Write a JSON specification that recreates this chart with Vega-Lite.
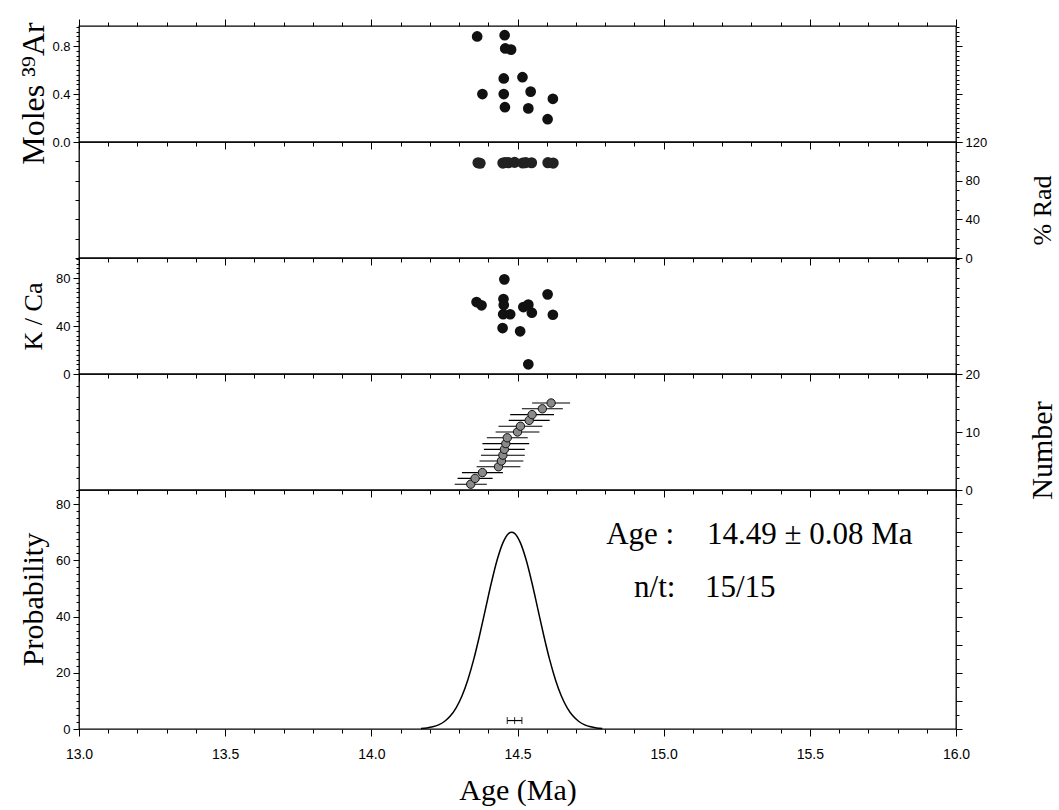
{
  "$schema": "https://vega.github.io/schema/vega-lite/v6.json",
  "background": "white",
  "padding": {"left": 16, "top": 17, "right": 0, "bottom": 0},
  "bounds": "flush",
  "spacing": 0,
  "datasets": {
    "moles": [
      {"age": 14.362, "moles": 0.88},
      {"age": 14.380, "moles": 0.40},
      {"age": 14.453, "moles": 0.53},
      {"age": 14.453, "moles": 0.40},
      {"age": 14.456, "moles": 0.89},
      {"age": 14.457, "moles": 0.29},
      {"age": 14.458, "moles": 0.78},
      {"age": 14.478, "moles": 0.77},
      {"age": 14.517, "moles": 0.54},
      {"age": 14.537, "moles": 0.28},
      {"age": 14.545, "moles": 0.42},
      {"age": 14.603, "moles": 0.19},
      {"age": 14.621, "moles": 0.36}
    ],
    "rad": [
      {"age": 14.365, "rad": 98.5},
      {"age": 14.372, "rad": 98.0},
      {"age": 14.450, "rad": 98.2},
      {"age": 14.458, "rad": 98.8},
      {"age": 14.469, "rad": 98.6},
      {"age": 14.490, "rad": 98.9},
      {"age": 14.518, "rad": 98.3},
      {"age": 14.528, "rad": 98.7},
      {"age": 14.548, "rad": 98.5},
      {"age": 14.604, "rad": 98.6},
      {"age": 14.622, "rad": 98.2}
    ],
    "kca": [
      {"age": 14.455, "kca": 78.9},
      {"age": 14.603, "kca": 66.4},
      {"age": 14.360, "kca": 60.0},
      {"age": 14.377, "kca": 57.3},
      {"age": 14.452, "kca": 62.5},
      {"age": 14.453, "kca": 57.5},
      {"age": 14.451, "kca": 49.8},
      {"age": 14.475, "kca": 49.8},
      {"age": 14.520, "kca": 55.8},
      {"age": 14.537, "kca": 57.8},
      {"age": 14.549, "kca": 51.1},
      {"age": 14.621, "kca": 49.4},
      {"age": 14.449, "kca": 38.3},
      {"age": 14.509, "kca": 35.6},
      {"age": 14.537, "kca": 8.1}
    ],
    "steps": [
      {"n": 1, "age": 14.340, "lo": 14.285, "hi": 14.395},
      {"n": 2, "age": 14.355, "lo": 14.295, "hi": 14.415},
      {"n": 3, "age": 14.380, "lo": 14.310, "hi": 14.450},
      {"n": 4, "age": 14.435, "lo": 14.360, "hi": 14.510},
      {"n": 5, "age": 14.445, "lo": 14.370, "hi": 14.520},
      {"n": 6, "age": 14.450, "lo": 14.375, "hi": 14.525},
      {"n": 7, "age": 14.455, "lo": 14.385, "hi": 14.525},
      {"n": 8, "age": 14.460, "lo": 14.380, "hi": 14.540},
      {"n": 9, "age": 14.465, "lo": 14.395, "hi": 14.535},
      {"n": 10, "age": 14.500, "lo": 14.425, "hi": 14.575},
      {"n": 11, "age": 14.510, "lo": 14.435, "hi": 14.585},
      {"n": 12, "age": 14.540, "lo": 14.470, "hi": 14.610},
      {"n": 13, "age": 14.550, "lo": 14.475, "hi": 14.625},
      {"n": 14, "age": 14.585, "lo": 14.515, "hi": 14.655},
      {"n": 15, "age": 14.615, "lo": 14.550, "hi": 14.680}
    ],
    "pdf": [
      {"age": 14.17, "p": 0.19},
      {"age": 14.19, "p": 0.39},
      {"age": 14.21, "p": 0.78},
      {"age": 14.23, "p": 1.48},
      {"age": 14.25, "p": 2.67},
      {"age": 14.27, "p": 4.60},
      {"age": 14.29, "p": 7.54},
      {"age": 14.31, "p": 11.76},
      {"age": 14.33, "p": 17.46},
      {"age": 14.35, "p": 24.66},
      {"age": 14.37, "p": 33.17},
      {"age": 14.39, "p": 42.46},
      {"age": 14.41, "p": 51.73},
      {"age": 14.43, "p": 60.0},
      {"age": 14.45, "p": 66.2},
      {"age": 14.47, "p": 69.6},
      {"age": 14.48, "p": 70.0},
      {"age": 14.49, "p": 69.6},
      {"age": 14.51, "p": 66.2},
      {"age": 14.53, "p": 60.0},
      {"age": 14.55, "p": 51.73},
      {"age": 14.57, "p": 42.46},
      {"age": 14.59, "p": 33.17},
      {"age": 14.61, "p": 24.66},
      {"age": 14.63, "p": 17.46},
      {"age": 14.65, "p": 11.76},
      {"age": 14.67, "p": 7.54},
      {"age": 14.69, "p": 4.60},
      {"age": 14.71, "p": 2.67},
      {"age": 14.73, "p": 1.48},
      {"age": 14.75, "p": 0.78},
      {"age": 14.77, "p": 0.39},
      {"age": 14.79, "p": 0.19}
    ],
    "meanbar": [{"lo": 14.465, "hi": 14.515, "p": 3}],
    "meanticks": [
      {"age": 14.465, "p": 3},
      {"age": 14.49, "p": 3},
      {"age": 14.515, "p": 3}
    ],
    "notes_label": [
      {"age": 15.036, "p": 65.7, "text": "Age :"},
      {"age": 15.040, "p": 47.1, "text": "n/t:"}
    ],
    "notes_value": [
      {"age": 15.148, "p": 65.7, "text": "14.49 ± 0.08 Ma"},
      {"age": 15.141, "p": 47.1, "text": "15/15"}
    ]
  },
  "vconcat": [
    {
      "width": 877,
      "height": 116,
      "data": {"name": "moles"},
      "layer": [
        {
          "mark": {"type": "circle", "size": 115, "color": "#111", "opacity": 1},
          "encoding": {
            "x": {"field": "age", "type": "quantitative", "scale": {"domain": [13, 16], "nice": false, "zero": false},
              "axis": {"orient": "bottom", "values": [13,13.1,13.2,13.3,13.4,13.5,13.6,13.7,13.8,13.9,14,14.1,14.2,14.3,14.4,14.5,14.6,14.7,14.8,14.9,15,15.1,15.2,15.3,15.4,15.5,15.6,15.7,15.8,15.9,16], "labels": false, "title": null,
                "tickSize": {"condition": {"test": "round(datum.value*10) % 5 == 0", "value": 7}, "value": 4}}},
            "y": {"field": "moles", "type": "quantitative", "scale": {"domain": [0, 0.967], "nice": false, "zero": false},
              "axis": {"orient": "left", "values": [0,0.04,0.08,0.12,0.16,0.2,0.24,0.28,0.32,0.36,0.4,0.44,0.48,0.52,0.56,0.6,0.64,0.68,0.72,0.76,0.8,0.84,0.88,0.92,0.96],
                "labelExpr": "round(datum.value*100) % 40 == 0 ? format(datum.value, '.1f') : ''",
                "tickSize": {"condition": {"test": "round(datum.value*100) % 40 == 0", "value": 6}, "value": 3},
                "title": "Moles ³⁹Ar", "titleX": -46, "titleY": 67, "titleAngle": -90, "titleBaseline": "middle", "titleAlign": "center", "titleFontSize": 32}}
          }
        },
        {
          "mark": {"type": "circle", "opacity": 0},
          "encoding": {
            "x": {"field": "age", "type": "quantitative",
              "axis": {"orient": "top", "values": [13,13.1,13.2,13.3,13.4,13.5,13.6,13.7,13.8,13.9,14,14.1,14.2,14.3,14.4,14.5,14.6,14.7,14.8,14.9,15,15.1,15.2,15.3,15.4,15.5,15.6,15.7,15.8,15.9,16], "labels": false, "title": null,
                "tickSize": {"condition": {"test": "round(datum.value*10) % 5 == 0", "value": 7}, "value": 4}}},
            "y": {"field": "moles", "type": "quantitative",
              "axis": {"orient": "right", "values": [0,0.04,0.08,0.12,0.16,0.2,0.24,0.28,0.32,0.36,0.4,0.44,0.48,0.52,0.56,0.6,0.64,0.68,0.72,0.76,0.8,0.84,0.88,0.92,0.96], "labels": false, "title": null,
                "tickSize": {"condition": {"test": "round(datum.value*100) % 40 == 0", "value": 6}, "value": 3}}}
          }
        }
      ],
      "resolve": {"axis": {"x": "independent", "y": "independent"}}
    },
    {
      "width": 877,
      "height": 116,
      "data": {"name": "rad"},
      "layer": [
        {
          "mark": {"type": "circle", "size": 125, "color": "#222", "opacity": 1},
          "encoding": {
            "x": {"field": "age", "type": "quantitative", "scale": {"domain": [13, 16], "nice": false, "zero": false},
              "axis": {"orient": "bottom", "values": [13,13.1,13.2,13.3,13.4,13.5,13.6,13.7,13.8,13.9,14,14.1,14.2,14.3,14.4,14.5,14.6,14.7,14.8,14.9,15,15.1,15.2,15.3,15.4,15.5,15.6,15.7,15.8,15.9,16], "labels": false, "title": null,
                "tickSize": {"condition": {"test": "round(datum.value*10) % 5 == 0", "value": 7}, "value": 4}}},
            "y": {"field": "rad", "type": "quantitative", "scale": {"domain": [0, 120], "nice": false, "zero": false},
              "axis": {"orient": "left", "values": [0,20,40,60,80,100,120], "labels": false, "title": null, "tickSize": 4}}
          }
        },
        {
          "mark": {"type": "circle", "opacity": 0},
          "encoding": {
            "x": {"field": "age", "type": "quantitative", "axis": null},
            "y": {"field": "rad", "type": "quantitative",
              "axis": {"orient": "right", "values": [0,10,20,30,40,50,60,70,80,90,100,110,120],
                "labelExpr": "datum.value % 40 == 0 ? datum.label : ''",
                "tickSize": {"condition": {"test": "datum.value % 40 == 0", "value": 6}, "value": 3},
                "title": "% Rad", "titleX": 86, "titleY": 68, "titleAngle": -90, "titleBaseline": "middle", "titleAlign": "center", "titleFontSize": 26}}
          }
        }
      ],
      "resolve": {"axis": {"x": "independent", "y": "independent"}}
    },
    {
      "width": 877,
      "height": 116,
      "data": {"name": "kca"},
      "layer": [
        {
          "mark": {"type": "circle", "size": 115, "color": "#111", "opacity": 1},
          "encoding": {
            "x": {"field": "age", "type": "quantitative", "scale": {"domain": [13, 16], "nice": false, "zero": false},
              "axis": {"orient": "bottom", "values": [13,13.1,13.2,13.3,13.4,13.5,13.6,13.7,13.8,13.9,14,14.1,14.2,14.3,14.4,14.5,14.6,14.7,14.8,14.9,15,15.1,15.2,15.3,15.4,15.5,15.6,15.7,15.8,15.9,16], "labels": false, "title": null,
                "tickSize": {"condition": {"test": "round(datum.value*10) % 5 == 0", "value": 7}, "value": 4}}},
            "y": {"field": "kca", "type": "quantitative", "scale": {"domain": [0, 96.7], "nice": false, "zero": false},
              "axis": {"orient": "left", "values": [0,4,8,12,16,20,24,28,32,36,40,44,48,52,56,60,64,68,72,76,80,84,88,92,96],
                "labelExpr": "datum.value % 40 == 0 ? datum.label : ''",
                "tickSize": {"condition": {"test": "datum.value % 40 == 0", "value": 6}, "value": 3},
                "title": "K / Ca", "titleX": -46, "titleAngle": -90, "titleBaseline": "middle", "titleAlign": "center", "titleFontSize": 26}}
          }
        },
        {
          "mark": {"type": "circle", "opacity": 0},
          "encoding": {
            "x": {"field": "age", "type": "quantitative", "axis": null},
            "y": {"field": "kca", "type": "quantitative",
              "axis": {"orient": "right", "values": [0,8,16,24,32,40,48,56,64,72,80,88,96], "labels": false, "title": null, "tickSize": 3}}
          }
        }
      ],
      "resolve": {"axis": {"x": "independent", "y": "independent"}}
    },
    {
      "width": 877,
      "height": 116,
      "data": {"name": "steps"},
      "layer": [
        {
          "mark": {"type": "rule", "color": "black", "strokeWidth": 1.1},
          "encoding": {
            "x": {"field": "lo", "type": "quantitative", "scale": {"domain": [13, 16], "nice": false, "zero": false},
              "axis": {"orient": "bottom", "values": [13,13.1,13.2,13.3,13.4,13.5,13.6,13.7,13.8,13.9,14,14.1,14.2,14.3,14.4,14.5,14.6,14.7,14.8,14.9,15,15.1,15.2,15.3,15.4,15.5,15.6,15.7,15.8,15.9,16], "labels": false, "title": null,
                "tickSize": {"condition": {"test": "round(datum.value*10) % 5 == 0", "value": 7}, "value": 4}}},
            "x2": {"field": "hi"},
            "y": {"field": "n", "type": "quantitative", "scale": {"domain": [0, 20], "nice": false, "zero": false},
              "axis": {"orient": "left", "values": [0,2,4,6,8,10,12,14,16,18,20], "labels": false, "title": null, "tickSize": 3}}
          }
        },
        {
          "mark": {"type": "circle", "size": 70, "color": "#8a8a8a", "stroke": "#111", "strokeWidth": 1, "opacity": 1},
          "encoding": {
            "x": {"field": "age", "type": "quantitative", "axis": null},
            "y": {"field": "n", "type": "quantitative", "axis": null}
          }
        },
        {
          "mark": {"type": "circle", "opacity": 0},
          "encoding": {
            "x": {"field": "age", "type": "quantitative", "axis": null},
            "y": {"field": "n", "type": "quantitative",
              "axis": {"orient": "right", "values": [0,2,4,6,8,10,12,14,16,18,20],
                "labelExpr": "datum.value % 10 == 0 ? datum.label : ''",
                "tickSize": {"condition": {"test": "datum.value % 10 == 0", "value": 6}, "value": 3},
                "title": "Number", "titleX": 86, "titleY": 76, "titleAngle": -90, "titleBaseline": "middle", "titleAlign": "center"}}
          }
        }
      ],
      "resolve": {"axis": {"x": "independent", "y": "independent"}}
    },
    {
      "width": 877,
      "height": 239,
      "layer": [
        {
          "data": {"name": "pdf"},
          "mark": {"type": "line", "color": "black", "strokeWidth": 1.5, "interpolate": "monotone"},
          "encoding": {
            "x": {"field": "age", "type": "quantitative", "scale": {"domain": [13, 16], "nice": false, "zero": false},
              "axis": {"orient": "bottom", "values": [13,13.1,13.2,13.3,13.4,13.5,13.6,13.7,13.8,13.9,14,14.1,14.2,14.3,14.4,14.5,14.6,14.7,14.8,14.9,15,15.1,15.2,15.3,15.4,15.5,15.6,15.7,15.8,15.9,16],
                "labelExpr": "round(datum.value*10) % 5 == 0 ? format(datum.value, '.1f') : ''",
                "labelFontSize": 14, "labelPadding": 11,
                "tickSize": {"condition": {"test": "round(datum.value*10) % 5 == 0", "value": 7}, "value": 4},
                "title": "Age (Ma)", "titleY": 61, "titleBaseline": "middle"}},
            "y": {"field": "p", "type": "quantitative", "scale": {"domain": [0, 85], "nice": false, "zero": false},
              "axis": {"orient": "left", "values": [0,2.5,5,7.5,10,12.5,15,17.5,20,22.5,25,27.5,30,32.5,35,37.5,40,42.5,45,47.5,50,52.5,55,57.5,60,62.5,65,67.5,70,72.5,75,77.5,80,82.5,85],
                "labelExpr": "datum.value % 20 == 0 ? datum.label : ''",
                "tickSize": {"condition": {"test": "datum.value % 20 == 0", "value": 6}, "value": 3},
                "title": "Probability", "titleX": -46, "titleY": 109, "titleAngle": -90, "titleBaseline": "middle", "titleAlign": "center"}}
          }
        },
        {
          "data": {"name": "pdf"},
          "mark": {"type": "circle", "opacity": 0},
          "encoding": {
            "x": {"field": "age", "type": "quantitative", "axis": null},
            "y": {"field": "p", "type": "quantitative",
              "axis": {"orient": "right", "values": [0,5,10,15,20,25,30,35,40,45,50,55,60,65,70,75,80,85], "labels": false, "title": null,
                "tickSize": {"condition": {"test": "datum.value % 10 == 0", "value": 6}, "value": 3}}}
          }
        },
        {
          "data": {"name": "meanbar"},
          "mark": {"type": "rule", "color": "black", "strokeWidth": 1.2},
          "encoding": {
            "x": {"field": "lo", "type": "quantitative", "axis": null},
            "x2": {"field": "hi"},
            "y": {"field": "p", "type": "quantitative", "axis": null}
          }
        },
        {
          "data": {"name": "meanticks"},
          "mark": {"type": "tick", "orient": "vertical", "color": "black", "size": 7, "thickness": 1.2},
          "encoding": {
            "x": {"field": "age", "type": "quantitative", "axis": null},
            "y": {"field": "p", "type": "quantitative", "axis": null}
          }
        },
        {
          "data": {"name": "notes_label"},
          "mark": {"type": "text", "align": "right", "baseline": "alphabetic", "font": "Liberation Serif", "fontSize": 31, "color": "black"},
          "encoding": {
            "x": {"field": "age", "type": "quantitative", "axis": null},
            "y": {"field": "p", "type": "quantitative", "axis": null},
            "text": {"field": "text"}
          }
        },
        {
          "data": {"name": "notes_value"},
          "mark": {"type": "text", "align": "left", "baseline": "alphabetic", "font": "Liberation Serif", "fontSize": 31, "color": "black"},
          "encoding": {
            "x": {"field": "age", "type": "quantitative", "axis": null},
            "y": {"field": "p", "type": "quantitative", "axis": null},
            "text": {"field": "text"}
          }
        }
      ],
      "resolve": {"axis": {"x": "independent", "y": "independent"}}
    }
  ],
  "config": {
    "view": {"stroke": "black", "strokeWidth": 1.3},
    "font": "Liberation Sans",
    "axis": {
      "labelFont": "Liberation Sans",
      "labelFontSize": 13,
      "labelColor": "black",
      "labelFlush": false,
      "labelOverlap": false,
      "labelPadding": 3,
      "tickColor": "black",
      "tickWidth": 1,
      "domain": false,
      "grid": false,
      "titleFont": "Liberation Serif",
      "titleFontSize": 30,
      "titleFontWeight": "normal",
      "titleColor": "black"
    }
  }
}
